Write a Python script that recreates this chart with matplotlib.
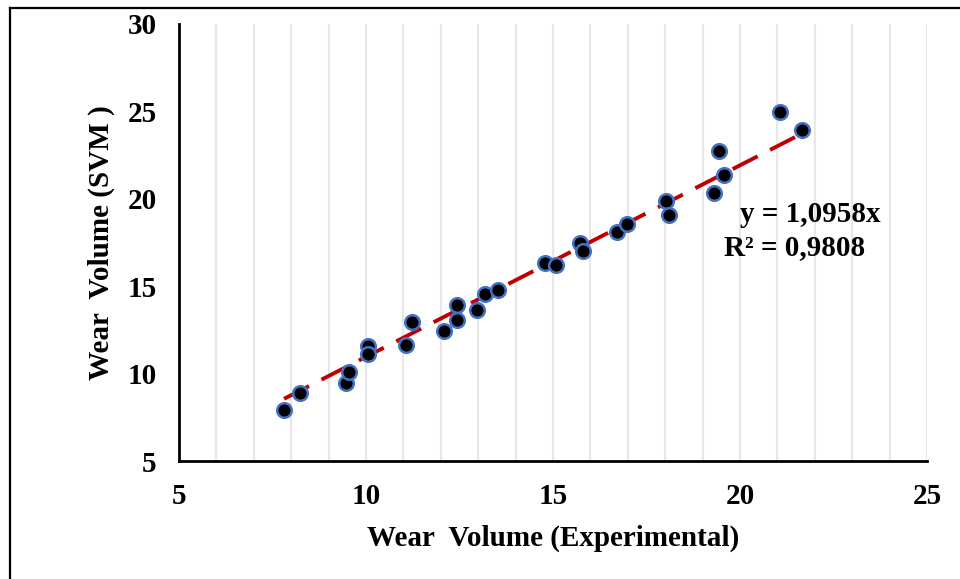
import matplotlib
matplotlib.use("Agg")
import matplotlib.pyplot as plt
from matplotlib.ticker import MultipleLocator
from matplotlib.lines import Line2D
import numpy as np

# Data
wear_experimental = [7.81, 8.24, 9.46, 9.55, 10.05, 10.05, 11.07, 11.24, 12.08, 12.42,
                     12.42, 12.96, 13.17, 13.53, 14.78, 15.08, 15.73, 15.80, 16.70,
                     16.98, 18.01, 18.10, 19.30, 19.45, 19.58, 21.07, 21.67]
wear_svm = [7.92, 8.87, 9.49, 10.11, 11.57, 11.10, 11.64, 12.98, 12.42, 13.07,
            13.94, 13.62, 14.55, 14.80, 16.30, 16.20, 17.47, 17.03, 18.09,
            18.56, 19.89, 19.07, 20.36, 22.74, 21.36, 24.95, 23.95]
slope = 1.0958
r2_text = "0,9808"
x_ticks = [5, 10, 15, 20, 25]
y_ticks = [5, 10, 15, 20, 25, 30]

plt.rcParams['font.family'] = ['Liberation Serif', 'DejaVu Serif']
plt.rcParams['font.weight'] = 'bold'

FS = 21

fig = plt.figure(figsize=(9.6, 5.79), dpi=100)
ax = fig.add_axes([179/960, 1-461/579, (927-179)/960, (461-24)/579])

ax.set_xlim(5, 25)
ax.set_ylim(5, 30)

# gridlines
ax.xaxis.set_minor_locator(MultipleLocator(1))
ax.set_xticks(x_ticks)
ax.set_yticks(y_ticks)
ax.grid(True, axis='x', which='both', color='#e8e8e8', linewidth=1.6, zorder=0)
ax.set_axisbelow(True)

# trendline
xs = np.array([min(wear_experimental), max(wear_experimental)])
ax.plot(xs, slope*xs, color='#C00000', linewidth=2.8, linestyle=(0, (7.2, 3.6)),
        dash_capstyle='butt', zorder=2)

# scatter points
ax.plot(wear_experimental, wear_svm, linestyle='none', marker='o', markersize=10.5,
        markerfacecolor='black', markeredgecolor='#4472C4', markeredgewidth=1.8,
        zorder=3, clip_on=False)

for s in ['top', 'right']:
    ax.spines[s].set_visible(False)
for s in ['left', 'bottom']:
    ax.spines[s].set_linewidth(2.0)
    ax.spines[s].set_color('black')

ax.tick_params(axis='both', which='both', length=0, labelsize=FS)
ax.tick_params(axis='x', pad=16)
ax.tick_params(axis='y', pad=16)
for lbl in ax.get_xticklabels() + ax.get_yticklabels():
    lbl.set_fontweight('bold')

ax.set_xlabel("Wear  Volume (Experimental)", fontsize=FS, fontweight='bold', va='center')
ax.xaxis.set_label_coords(0.5, (461-538)/437)
ax.set_ylabel("Wear  Volume (SVM )", fontsize=FS, fontweight='bold', va='center')
ax.yaxis.set_label_coords((101-179)/748, 0.5)

# trendline equation
ax.text((810-179)/748*20+5, 5+(461-215)/17.48, f"y = {slope:.4f}x".replace('.', ','),
        ha='center', va='center', fontsize=FS, fontweight='bold')
ax.text((795-179)/748*20+5, 5+(461-248)/17.48, f"R² = {r2_text}",
        ha='center', va='center', fontsize=FS, fontweight='bold')

# figure frame
fig.add_artist(Line2D([10/960, 1.0], [1-7.5/579, 1-7.5/579], transform=fig.transFigure,
                      color='black', linewidth=1.6))
fig.add_artist(Line2D([10/960, 10/960], [0.0, 1-7.5/579], transform=fig.transFigure,
                      color='black', linewidth=1.6))

fig.savefig("out.png", dpi=100)
